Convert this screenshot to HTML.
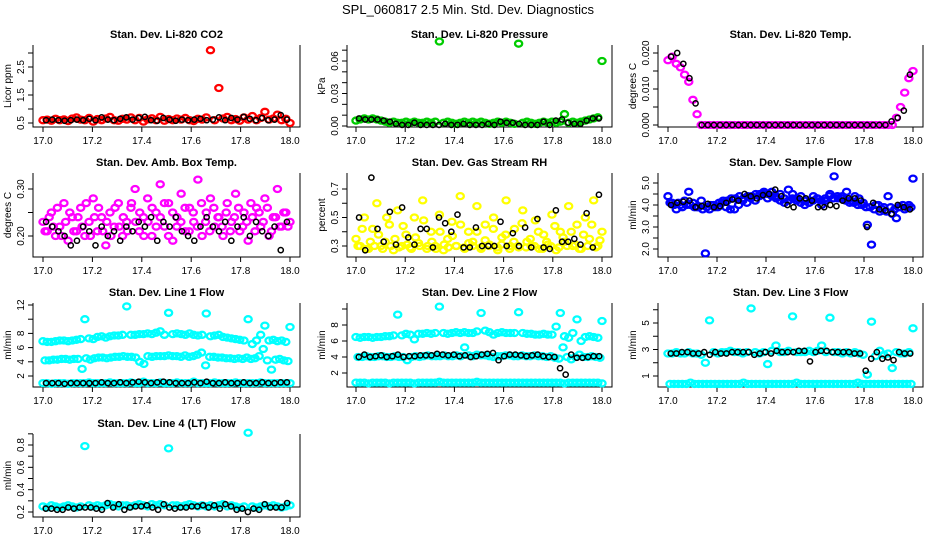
<!DOCTYPE html>
<html><head><meta charset="utf-8"><style>
body{margin:0;background:#fff}
svg{display:block;font-family:"Liberation Sans",sans-serif}
</style></head><body>
<svg id="chart" width="936" height="540" viewBox="0 0 936 540">
<rect width="936" height="540" fill="#fff"/>
<text x="468" y="14" font-size="13" text-anchor="middle">SPL_060817  2.5 Min. Std. Dev. Diagnostics</text>
</svg>
<script>
const xTicks=[17.0,17.2,17.4,17.6,17.8,18.0];
const xTickLabels=["17.0","17.2","17.4","17.6","17.8","18.0"];
const titles=["Stan. Dev. Li-820 CO2","Stan. Dev. Li-820 Pressure","Stan. Dev. Li-820 Temp.","Stan. Dev. Amb. Box Temp.","Stan. Dev. Gas Stream RH","Stan. Dev. Sample Flow","Stan. Dev. Line 1 Flow","Stan. Dev. Line 2 Flow","Stan. Dev. Line 3 Flow","Stan. Dev. Line 4 (LT) Flow"];
const yLabels=["Licor ppm","kPa","degrees C","degrees C","percent","ml/min","ml/min","ml/min","ml/min","ml/min"];
const yTicks=[[0.5,1.0,1.5,2.0,2.5,3.0],[0,0.01,0.02,0.03,0.04,0.05,0.06,0.07],[0,0.005,0.010,0.015,0.020],[0.20,0.25,0.30],[0.3,0.4,0.5,0.6,0.7],[2.0,2.5,3.0,3.5,4.0,4.5,5.0],[2,4,6,8,10,12],[2,4,6,8,10],[1,2,3,4,5,6],[0.2,0.3,0.4,0.5,0.6,0.7,0.8,0.9]];
const yTickLabels=[["0.5","","1.5","","2.5",""],["0.00","","","0.03","","","0.06",""],["0.000","","0.010","","0.020"],["0.20","","0.30"],["0.3","","0.5","","0.7"],["2.0","","3.0","","4.0","","5.0"],["2","4","6","8","","12"],["2","4","6","8",""],["1","","3","","5",""],["0.2","","0.4","","0.6","","0.8",""]];

const co2Red=[0.6,0.62,0.58,0.65,0.6,0.63,0.57,0.66,0.7,0.62,0.6,0.68,0.55,0.64,0.6,0.66,0.72,0.6,0.58,0.65,0.62,0.7,0.6,0.68,0.55,0.63,0.67,0.6,0.72,0.58,0.64,0.6,0.66,0.62,0.68,0.6,0.57,0.65,0.62,0.7,3.1,0.6,1.75,0.66,0.72,0.6,0.64,0.58,0.7,0.62,0.75,0.6,0.68,0.9,0.62,0.66,0.8,0.6,0.65,0.5];
const co2Black=[0.6,0.62,0.6,0.58,0.6,0.62,0.6,0.65,0.6,0.7,0.62,0.6,0.65,0.7,0.62,0.68,0.72,0.6,0.58,0.68,0.62,0.58,0.62,0.6,0.62,0.65,0.6,0.62,0.7,0.6,0.68,0.62,0.72,0.65,0.6,0.68,0.6,0.62,0.78,0.62];
const presGreen=[0.005,0.006,0.007,0.006,0.007,0.006,0.005,0.004,0.003,0.004,0.003,0.003,0.004,0.003,0.004,0.003,0.003,0.004,0.003,0.004,0.078,0.003,0.004,0.003,0.002,0.003,0.004,0.003,0.004,0.003,0.004,0.003,0.002,0.003,0.004,0.003,0.004,0.003,0.002,0.076,0.003,0.004,0.003,0.002,0.003,0.004,0.003,0.004,0.003,0.004,0.011,0.003,0.004,0.003,0.004,0.005,0.006,0.007,0.008,0.06];
const presBlack=[0.007,0.006,0.006,0.006,0.005,0.004,0.002,0.001,0.001,0.003,0.001,0.001,0.001,0.001,0.002,0.001,0.001,0.002,0.001,0.001,0.001,0.002,0.001,0.004,0.003,0.003,0.002,0.001,0.001,0.001,0.004,0.001,0.005,0.006,0.003,0.002,0.002,0.005,0.007,0.007];
const tempMagenta=[0.018,0.019,0.017,0.016,0.014,0.012,0.007,0.003,0,0,0,0,0,0,0,0,0,0,0,0,0,0,0,0,0,0,0,0,0,0,0,0,0,0,0,0,0,0,0,0,0,0,0,0,0,0,0,0,0,0,0,0,0,0,0,0.002,0.005,0.009,0.013,0.015];
const tempBlack=[0.019,0.020,0.017,0.013,0.006,0,0,0,0,0,0,0,0,0,0,0,0,0,0,0,0,0,0,0,0,0,0,0,0,0,0,0,0,0,0,0,0.001,0.002,0.004,0.014];
const ambMagenta=[0.23,0.21,0.25,0.2,0.22,0.27,0.19,0.24,0.21,0.26,0.2,0.23,0.28,0.21,0.24,0.18,0.25,0.22,0.27,0.2,0.23,0.26,0.3,0.21,0.24,0.28,0.2,0.25,0.31,0.22,0.27,0.19,0.24,0.29,0.21,0.26,0.23,0.32,0.2,0.25,0.28,0.22,0.24,0.2,0.27,0.23,0.29,0.21,0.25,0.19,0.24,0.26,0.22,0.28,0.2,0.24,0.3,0.22,0.25,0.23];
const ambMagenta2=[0.21,0.24,0.22,0.26,0.2,0.23,0.25,0.21,0.24,0.22,0.27,0.2,0.24,0.26,0.21,0.23,0.2,0.26,0.22,0.24,0.21,0.27,0.23,0.25,0.2,0.23,0.26,0.22,0.24,0.27,0.2,0.25,0.22,0.23,0.26,0.21,0.25,0.22,0.27,0.23,0.21,0.26,0.24,0.22,0.25,0.21,0.24,0.26,0.22,0.23,0.27,0.21,0.25,0.23,0.26,0.21,0.24,0.22,0.25,0.22];
const ambBlack=[0.23,0.22,0.21,0.2,0.18,0.19,0.22,0.21,0.18,0.22,0.2,0.21,0.19,0.22,0.21,0.23,0.22,0.24,0.19,0.23,0.22,0.24,0.21,0.2,0.19,0.22,0.24,0.22,0.21,0.23,0.19,0.22,0.24,0.2,0.23,0.21,0.2,0.22,0.17,0.23];
const rhYellow=[0.35,0.3,0.5,0.28,0.42,0.6,0.3,0.33,0.45,0.27,0.55,0.3,0.38,0.29,0.5,0.32,0.62,0.28,0.4,0.3,0.52,0.27,0.35,0.47,0.3,0.65,0.29,0.4,0.33,0.58,0.28,0.45,0.31,0.5,0.27,0.36,0.62,0.3,0.42,0.29,0.55,0.33,0.3,0.48,0.28,0.38,0.31,0.52,0.27,0.4,0.33,0.58,0.3,0.45,0.28,0.5,0.35,0.62,0.3,0.4];
const rhYellow2=[0.3,0.42,0.28,0.33,0.3,0.38,0.28,0.5,0.3,0.35,0.29,0.44,0.31,0.28,0.36,0.3,0.48,0.3,0.33,0.28,0.4,0.31,0.29,0.37,0.3,0.45,0.28,0.32,0.3,0.4,0.29,0.34,0.3,0.42,0.29,0.31,0.38,0.28,0.33,0.3,0.46,0.29,0.35,0.3,0.4,0.28,0.33,0.3,0.44,0.29,0.36,0.3,0.4,0.31,0.28,0.38,0.3,0.45,0.29,0.34];
const rhBlack=[0.5,0.27,0.78,0.42,0.33,0.54,0.31,0.57,0.36,0.31,0.42,0.42,0.29,0.5,0.46,0.4,0.52,0.29,0.29,0.43,0.3,0.3,0.3,0.47,0.3,0.39,0.3,0.43,0.29,0.49,0.29,0.28,0.55,0.33,0.33,0.35,0.31,0.53,0.29,0.66];
const flowBlue=[4.4,4.1,3.8,4.0,4.2,4.6,4.1,3.9,4.2,1.8,3.8,4.0,3.9,4.1,3.9,3.8,3.8,4.0,4.2,4.1,4.3,4.2,4.4,4.5,4.3,4.6,4.4,4.5,4.3,4.7,4.5,4.3,4.4,4.2,4.1,4.4,4.3,4.0,4.2,4.5,5.3,4.3,4.4,4.6,4.2,4.4,4.3,4.1,3.1,2.2,4.0,3.7,3.9,4.4,3.6,3.4,3.9,3.8,4.0,5.2];
const flowBlue2=[4.1,4.0,4.1,3.9,4.0,4.0,3.9,3.9,3.8,3.9,4.0,3.9,4.1,4.2,4.2,4.3,4.3,4.4,4.3,4.4,4.4,4.5,4.5,4.6,4.5,4.4,4.3,4.2,4.1,4.2,4.3,4.2,4.1,4.0,4.1,4.2,4.3,4.2,4.3,4.4,4.3,4.4,4.3,4.2,4.1,4.1,4.0,4.0,3.9,3.9,3.8,4.0,3.8,3.7,3.9,3.8,3.9,4.0,3.9,3.9];
const flowBlack=[4.0,4.1,4.15,4.2,3.9,3.95,4.05,3.9,3.95,4.1,4.25,4.2,4.5,4.4,4.3,4.45,4.5,4.7,4.4,4.0,3.9,4.3,4.3,4.2,3.9,3.9,4.0,3.95,4.2,4.3,4.3,4.2,3.0,4.1,3.8,3.75,3.6,4.0,3.9,3.8];
const l1Top=[6.9,6.8,6.8,6.9,7.0,7.0,6.9,7.0,7.1,7.2,10.0,7.3,7.2,7.5,7.6,7.4,7.6,7.7,7.7,7.8,11.8,7.8,7.8,7.9,7.9,8.0,7.9,8.1,8.3,7.8,10.9,7.9,8.0,7.9,7.8,8.0,7.8,7.7,7.8,10.8,7.6,7.7,7.8,7.5,7.4,7.3,7.2,7.1,7.0,10.0,6.5,7.0,7.8,9.1,7.0,7.1,6.9,7.0,6.8,8.9];
const l1Mid=[4.2,4.2,4.3,4.3,4.4,4.4,4.3,4.4,4.4,3.0,4.5,4.3,4.5,4.6,4.6,4.5,4.6,4.7,4.7,4.8,4.7,4.7,4.6,4.0,3.7,4.8,4.7,4.8,4.8,4.8,4.9,4.8,4.8,4.7,4.9,4.7,4.8,5.0,5.3,3.5,4.7,4.7,4.6,4.6,4.5,4.5,4.4,4.5,4.4,4.6,4.4,4.5,4.8,5.8,4.2,2.9,4.3,4.4,4.2,4.1];
const l1Low=[1.0,1.0,0.9,1.0,1.0,1.0,0.9,1.0,1.0,1.0,1.0,1.1,1.0,1.0,1.0,1.0,1.1,1.0,1.0,1.0,1.0,1.1,1.0,1.0,1.2,1.0,1.0,1.0,1.1,1.0,1.0,1.0,1.1,1.0,1.0,1.0,1.2,1.0,1.0,1.0,1.0,1.1,1.0,1.0,1.0,1.0,1.1,1.0,1.0,1.0,1.0,1.0,1.1,1.0,1.0,1.0,1.0,1.0,1.0,1.0];
const l1Black=[1.0,1.0,1.0,0.9,1.0,1.0,1.0,1.0,1.0,1.1,1.0,1.0,1.1,1.0,1.1,1.2,1.1,1.0,1.1,1.2,1.1,1.0,1.0,1.0,1.1,1.0,1.2,1.0,1.0,1.1,1.0,1.0,1.1,1.0,1.0,1.1,1.0,1.0,1.1,1.1];
const l2Top=[6.5,6.4,6.5,6.5,6.4,6.5,6.5,6.6,6.6,6.7,9.3,6.7,6.9,6.8,6.2,6.9,6.9,7.0,6.9,7.0,10.3,7.0,6.9,7.0,7.1,7.0,7.1,7.0,7.0,7.2,9.5,7.3,7.1,6.8,7.0,7.1,7.0,7.0,7.0,9.6,7.0,6.9,6.9,6.8,6.8,6.9,6.8,6.8,7.8,9.5,6.6,6.4,7.0,8.7,6.0,6.5,6.6,6.5,6.4,8.5];
const l2Mid=[4.0,4.0,4.1,4.0,4.0,4.1,4.1,4.0,4.0,4.1,4.0,4.0,3.6,4.0,4.1,4.0,4.1,4.2,4.1,4.1,4.1,4.2,4.1,4.1,4.2,4.1,5.2,4.2,4.1,4.3,4.2,4.2,4.1,4.0,4.1,4.1,4.2,4.2,4.1,4.1,4.2,4.1,4.1,4.2,4.1,4.1,4.0,4.1,3.9,3.8,5.2,4.0,3.7,4.0,4.3,4.0,4.0,4.1,4.0,3.9];
const l2Low=[0.8,0.8,0.8,0.7,0.8,0.8,0.8,0.8,0.7,0.8,0.8,0.8,0.8,0.8,0.7,0.8,0.8,0.8,0.8,0.8,0.9,0.8,0.8,0.8,0.8,0.8,0.8,0.8,0.8,0.9,0.8,0.8,0.8,0.8,0.8,0.8,0.8,0.8,0.8,0.8,0.8,0.8,0.8,0.8,0.8,0.8,0.8,0.8,0.8,0.8,0.7,0.8,0.8,0.8,0.8,0.8,0.8,0.8,0.8,0.7];
const l2Black=[4.0,4.3,4.0,4.1,4.2,4.0,4.1,4.3,4.0,4.1,4.1,4.2,4.2,4.2,4.4,4.3,4.2,4.3,4.1,4.2,4.0,4.1,4.3,4.4,4.5,3.6,4.1,4.3,4.3,4.2,4.1,4.2,4.3,4.1,4.0,4.0,2.6,1.8,4.3,3.9,3.9,4.0,4.1,4.1];
const l3Top=[2.7,2.7,2.8,2.7,2.7,2.8,2.7,2.7,2.6,2.0,5.2,2.8,2.7,2.8,2.8,2.9,2.8,2.8,2.7,2.8,6.1,2.8,2.7,2.8,1.9,2.9,3.3,2.8,2.8,2.9,5.5,2.8,2.8,2.8,2.9,2.8,2.9,3.3,2.8,5.4,2.8,2.8,2.7,2.8,2.7,2.8,2.7,2.6,1.1,5.1,2.5,2.9,2.6,2.7,1.6,2.8,2.7,2.7,2.8,4.6];
const l3Low=[0.4,0.4,0.4,0.4,0.4,0.5,0.4,0.4,0.4,0.4,0.4,0.4,0.4,0.4,0.4,0.4,0.4,0.4,0.5,0.4,0.4,0.4,0.4,0.4,0.4,0.4,0.4,0.4,0.4,0.4,0.4,0.5,0.4,0.4,0.4,0.4,0.4,0.4,0.4,0.4,0.4,0.4,0.4,0.4,0.4,0.4,0.5,0.4,0.4,0.4,0.4,0.4,0.4,0.4,0.4,0.4,0.4,0.4,0.4,0.4];
const l3Black=[2.7,2.7,2.8,2.8,2.7,2.7,2.8,2.6,2.8,2.7,2.7,2.8,2.8,2.8,2.8,2.6,2.7,2.8,2.7,2.9,2.8,2.8,2.8,2.9,2.9,2.1,2.8,2.9,2.9,2.8,2.8,2.8,2.8,2.7,2.7,1.4,2.3,2.8,2.3,2.4,2.2,2.8,2.7,2.7];
const l4Cyan=[0.25,0.24,0.26,0.25,0.24,0.25,0.26,0.25,0.24,0.25,0.79,0.26,0.25,0.26,0.25,0.26,0.27,0.26,0.25,0.26,0.26,0.25,0.26,0.27,0.26,0.25,0.27,0.26,0.27,0.26,0.77,0.26,0.26,0.25,0.26,0.27,0.26,0.25,0.26,0.25,0.26,0.25,0.26,0.27,0.25,0.26,0.25,0.24,0.25,0.91,0.25,0.24,0.25,0.26,0.25,0.26,0.25,0.24,0.25,0.26];
const l4Black=[0.23,0.23,0.22,0.22,0.24,0.23,0.24,0.24,0.24,0.23,0.22,0.28,0.24,0.27,0.22,0.24,0.25,0.25,0.26,0.24,0.22,0.27,0.24,0.23,0.24,0.24,0.25,0.25,0.26,0.24,0.26,0.23,0.27,0.25,0.22,0.23,0.2,0.23,0.22,0.27,0.24,0.24,0.24,0.28];

const panelSeries=[
 [[co2Red,"#ff0000"],[co2Black,"#000"]],
 [[presGreen,"#00cc00"],[presBlack,"#000"]],
 [[tempMagenta,"#ff00ff"],[tempBlack,"#000"]],
 [[ambMagenta,"#ff00ff"],[ambMagenta2,"#ff00ff"],[ambBlack,"#000"]],
 [[rhYellow,"#ffff00"],[rhYellow2,"#ffff00"],[rhBlack,"#000"]],
 [[flowBlue,"#0000ff"],[flowBlue2,"#0000ff"],[flowBlack,"#000"]],
 [[l1Top,"#00ffff"],[l1Mid,"#00ffff"],[l1Low,"#00ffff"],[l1Black,"#000"]],
 [[l2Top,"#00ffff"],[l2Mid,"#00ffff"],[l2Low,"#00ffff"],[l2Black,"#000"]],
 [[l3Top,"#00ffff"],[l3Low,"#00ffff"],[l3Black,"#000"]],
 [[l4Cyan,"#00ffff"],[l4Black,"#000"]]
];
// layout (not data)
const cols=[{L:33,R:300,x0:43,x1:290},{L:347,R:612,x0:356,x1:602},{L:658,R:923,x0:668,x1:913}];
const rows=[{T:45,B:127},{T:173,B:257},{T:303,B:387},{T:434,B:517}];
const yRefs=[[0.5,123,2.5,67],[0,126,0.06,61],[0,125,0.02,53],[0.2,236,0.3,189],[0.3,246,0.7,189],[2,249,5,183],[2,376,12,305],[2,373,8,325],[1,376,5,323],[0.2,512,0.8,445]];

const NS="http://www.w3.org/2000/svg";
const svg=document.getElementById('chart');
function mk(tag,attrs,parent){const e=document.createElementNS(NS,tag);for(const k in attrs)e.setAttribute(k,attrs[k]);parent.appendChild(e);return e;}

titles.forEach((title,p)=>{
 const c=cols[p%3], r=rows[Math.floor(p/3)], ref=yRefs[p];
 const xs=v=>c.x0+(v-17)*(c.x1-c.x0);
 const ys=v=>ref[1]+(v-ref[0])*(ref[3]-ref[1])/(ref[2]-ref[0]);
 const g=mk('g',{},svg);
 
 
 const t=mk('text',{x:(c.L+c.R)/2,y:r.T-7,'font-size':11,'font-weight':'bold','text-anchor':'middle'},g);
 t.textContent=title;
 
 
 const frame=mk('path',{d:`M${c.L},${r.T}V${r.B}H${c.R}V${r.T}`,fill:'none',stroke:'#000','stroke-width':1},g);
 
 
 xTicks.forEach((v,i)=>{
  const x=xs(v);
  mk('line',{x1:x,x2:x,y1:r.B,y2:r.B+5,stroke:'#000'},g);
  const tl=mk('text',{x:x,y:r.B+17,'font-size':10,'text-anchor':'middle'},g);
  tl.textContent=xTickLabels[i];
  
  
 });
 yTicks[p].forEach((v,i)=>{
  const y=ys(v);
  mk('line',{x1:c.L-5,x2:c.L,y1:y,y2:y,stroke:'#000'},g);
  if(yTickLabels[p][i]){
   const tl=mk('text',{x:0,y:0,'font-size':10,'text-anchor':'middle',transform:`translate(${c.L-9},${y}) rotate(-90)`},g);
   tl.textContent=yTickLabels[p][i];
   
   
  }
 });
 const yl=mk('text',{x:0,y:0,'font-size':10,'text-anchor':'middle',transform:`translate(${c.L-22},${(r.T+r.B)/2}) rotate(-90)`},g);
 yl.textContent=yLabels[p];
 
 
 panelSeries[p].forEach(([vals,col],si)=>{
  const n=vals.length;
  const isBlack=col==="#000";
  vals.forEach((v,i)=>{
   const tx=17+ (isBlack? (i+0.5)/n : (si%2? (i+0.5)/n : i/(n-1)));
   let pt;
   if(isBlack){
    pt=mk('circle',{cx:xs(tx),cy:ys(v),r:2.6,fill:'none',stroke:col,'stroke-width':1.5},g);
   } else {
    pt=mk('ellipse',{cx:xs(tx),cy:ys(v),rx:3.6,ry:3,fill:'none',stroke:col,'stroke-width':2.3},g);
   }
   
   
  });
 });
});
</script>
</body></html>
